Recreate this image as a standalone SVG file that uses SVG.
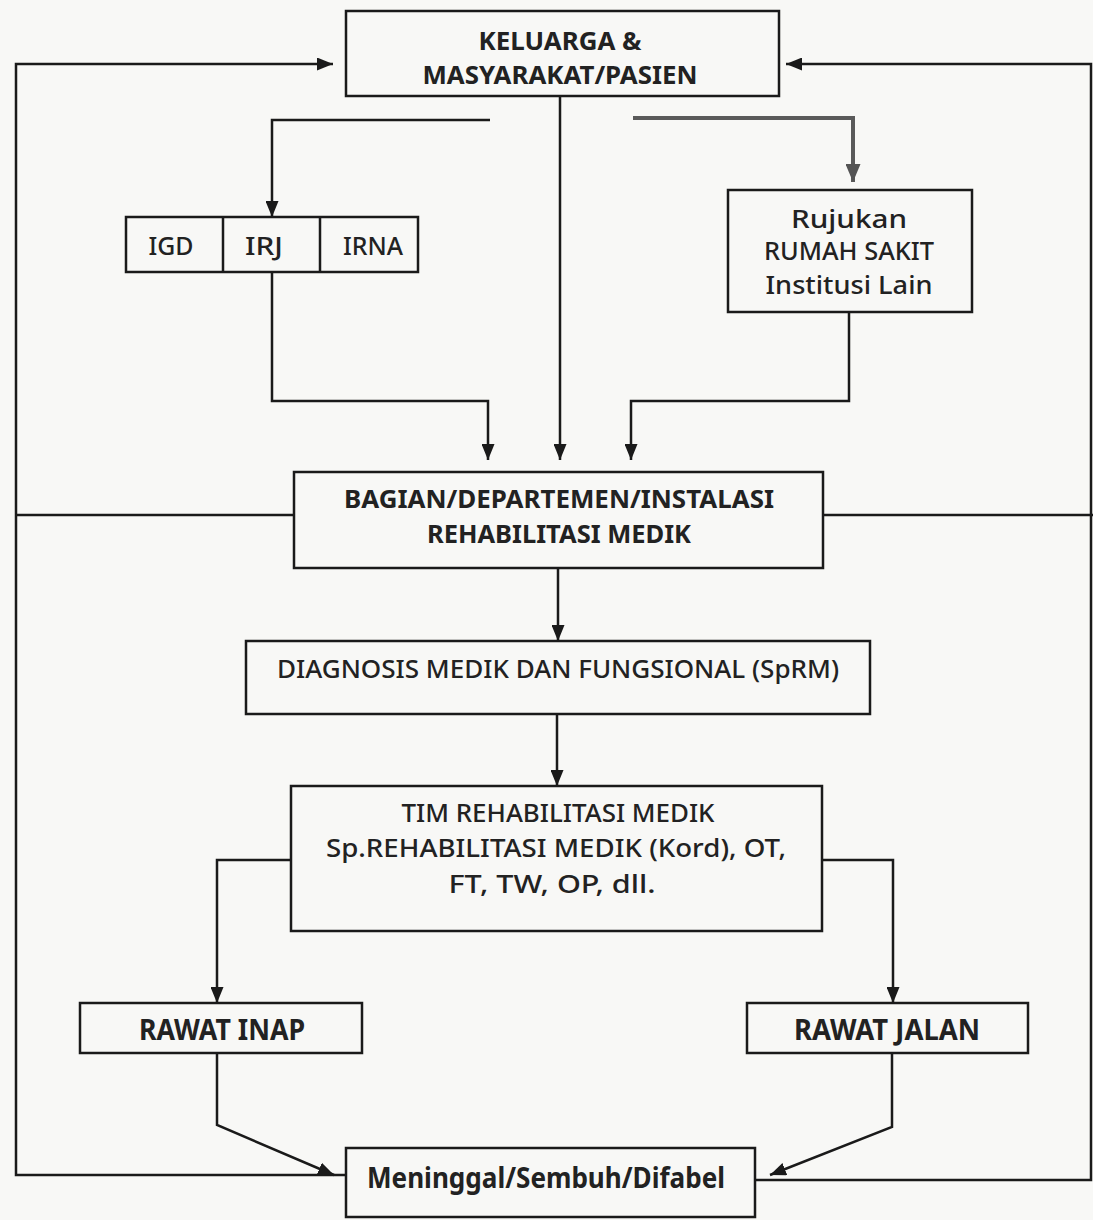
<svg xmlns="http://www.w3.org/2000/svg" width="1093" height="1220" viewBox="0 0 1093 1220">
<defs>
<marker id="ah" markerWidth="16" markerHeight="13" refX="16" refY="6.5" orient="auto" markerUnits="userSpaceOnUse"><path d="M0,0 L16,6.5 L0,13 Z" fill="#1a1a1a"/></marker>
<marker id="ahg" markerWidth="18" markerHeight="15" refX="18" refY="7.5" orient="auto" markerUnits="userSpaceOnUse"><path d="M0,0 L18,7.5 L0,15 Z" fill="#555"/></marker>
<style>
.box{fill:none;stroke:#1a1a1a;stroke-width:2.5}
.ln{fill:none;stroke:#1a1a1a;stroke-width:2.5}
.gl{fill:none;stroke:#5a5a5a;stroke-width:4}
.t{font-family:"Noto Sans","Open Sans","DejaVu Sans",sans-serif;font-size:25px;fill:#222;text-anchor:middle}
.c{font-weight:700;font-size:25px}
.r{font-weight:500}
.big{font-size:26px}
.tall{font-size:28px}
</style>
</defs>
<rect width="1093" height="1220" fill="#f8f8f6"/>
<g id="connectors">
<polyline class="ln" points="346,1175 16,1175 16,64 333,64" marker-end="url(#ah)"/>
<polyline class="ln" points="755,1180 1091,1180 1091,64 786,64" marker-end="url(#ah)"/>
<line class="ln" x1="16" y1="515" x2="294" y2="515"/>
<line class="ln" x1="823" y1="515" x2="1093" y2="515"/>
<line class="ln" x1="560" y1="96" x2="560" y2="460" marker-end="url(#ah)"/>
<polyline class="ln" points="490,120 272,120 272,217" marker-end="url(#ah)"/>
<polyline class="gl" points="633,118 853,118 853,182" marker-end="url(#ahg)"/>
<polyline class="ln" points="272,272 272,401 488,401 488,460" marker-end="url(#ah)"/>
<polyline class="ln" points="849,312 849,401 631,401 631,460" marker-end="url(#ah)"/>
<line class="ln" x1="558" y1="568" x2="558" y2="641" marker-end="url(#ah)"/>
<line class="ln" x1="557" y1="714" x2="557" y2="786" marker-end="url(#ah)"/>
<polyline class="ln" points="291,860 217,860 217,1003" marker-end="url(#ah)"/>
<polyline class="ln" points="822,860 893,860 893,1003" marker-end="url(#ah)"/>
<polyline class="ln" points="217,1053 217,1125 334,1175" marker-end="url(#ah)"/>
<polyline class="ln" points="892,1053 892,1127 770,1175" marker-end="url(#ah)"/>
</g>
<g id="keluarga">
<rect class="box" x="346" y="11" width="433" height="85"/>
<text class="t c" x="560" y="50" textLength="163" lengthAdjust="spacingAndGlyphs">KELUARGA &amp;</text>
<text class="t c" x="560" y="84" textLength="275" lengthAdjust="spacingAndGlyphs">MASYARAKAT/PASIEN</text>
</g>
<g id="igd-irj-irna">
<rect class="box" x="126" y="217" width="292" height="55"/>
<line class="ln" x1="223" y1="217" x2="223" y2="272"/>
<line class="ln" x1="320" y1="217" x2="320" y2="272"/>
<text class="t r big" x="171" y="255" textLength="45" lengthAdjust="spacingAndGlyphs">IGD</text>
<text class="t r big" x="264" y="255" textLength="38" lengthAdjust="spacingAndGlyphs">IRJ</text>
<text class="t r big" x="373" y="255" textLength="60" lengthAdjust="spacingAndGlyphs">IRNA</text>
</g>
<g id="rujukan">
<rect class="box" x="728" y="190" width="244" height="122"/>
<text class="t r" x="849" y="228" textLength="116" lengthAdjust="spacingAndGlyphs">Rujukan</text>
<text class="t r" x="849" y="260" textLength="170" lengthAdjust="spacingAndGlyphs">RUMAH SAKIT</text>
<text class="t r" x="849" y="294" textLength="167" lengthAdjust="spacingAndGlyphs">Institusi Lain</text>
</g>
<g id="bagian">
<rect class="box" x="294" y="472" width="529" height="96"/>
<text class="t c" x="559" y="508" textLength="430" lengthAdjust="spacingAndGlyphs">BAGIAN/DEPARTEMEN/INSTALASI</text>
<text class="t c" x="559" y="543" textLength="264" lengthAdjust="spacingAndGlyphs">REHABILITASI MEDIK</text>
</g>
<g id="diagnosis">
<rect class="box" x="246" y="641" width="624" height="73"/>
<text class="t r" x="558" y="678" textLength="562" lengthAdjust="spacingAndGlyphs">DIAGNOSIS MEDIK DAN FUNGSIONAL (SpRM)</text>
</g>
<g id="tim">
<rect class="box" x="291" y="786" width="531" height="145"/>
<text class="t r" x="558" y="822" textLength="313" lengthAdjust="spacingAndGlyphs">TIM REHABILITASI MEDIK</text>
<text class="t r" x="556" y="857" textLength="460" lengthAdjust="spacingAndGlyphs">Sp.REHABILITASI MEDIK (Kord), OT,</text>
<text class="t r" x="552" y="893" textLength="207" lengthAdjust="spacingAndGlyphs">FT, TW, OP, dll.</text>
</g>
<g id="rawat-inap">
<rect class="box" x="80" y="1003" width="282" height="50"/>
<text class="t c tall" x="222" y="1040" textLength="166" lengthAdjust="spacingAndGlyphs">RAWAT INAP</text>
</g>
<g id="rawat-jalan">
<rect class="box" x="747" y="1003" width="281" height="50"/>
<text class="t c tall" x="887" y="1040" textLength="186" lengthAdjust="spacingAndGlyphs">RAWAT JALAN</text>
</g>
<g id="hasil">
<rect class="box" x="346" y="1148" width="409" height="69"/>
<text class="t c tall" x="546" y="1188" textLength="358" lengthAdjust="spacingAndGlyphs">Meninggal/Sembuh/Difabel</text>
</g>
</svg>
